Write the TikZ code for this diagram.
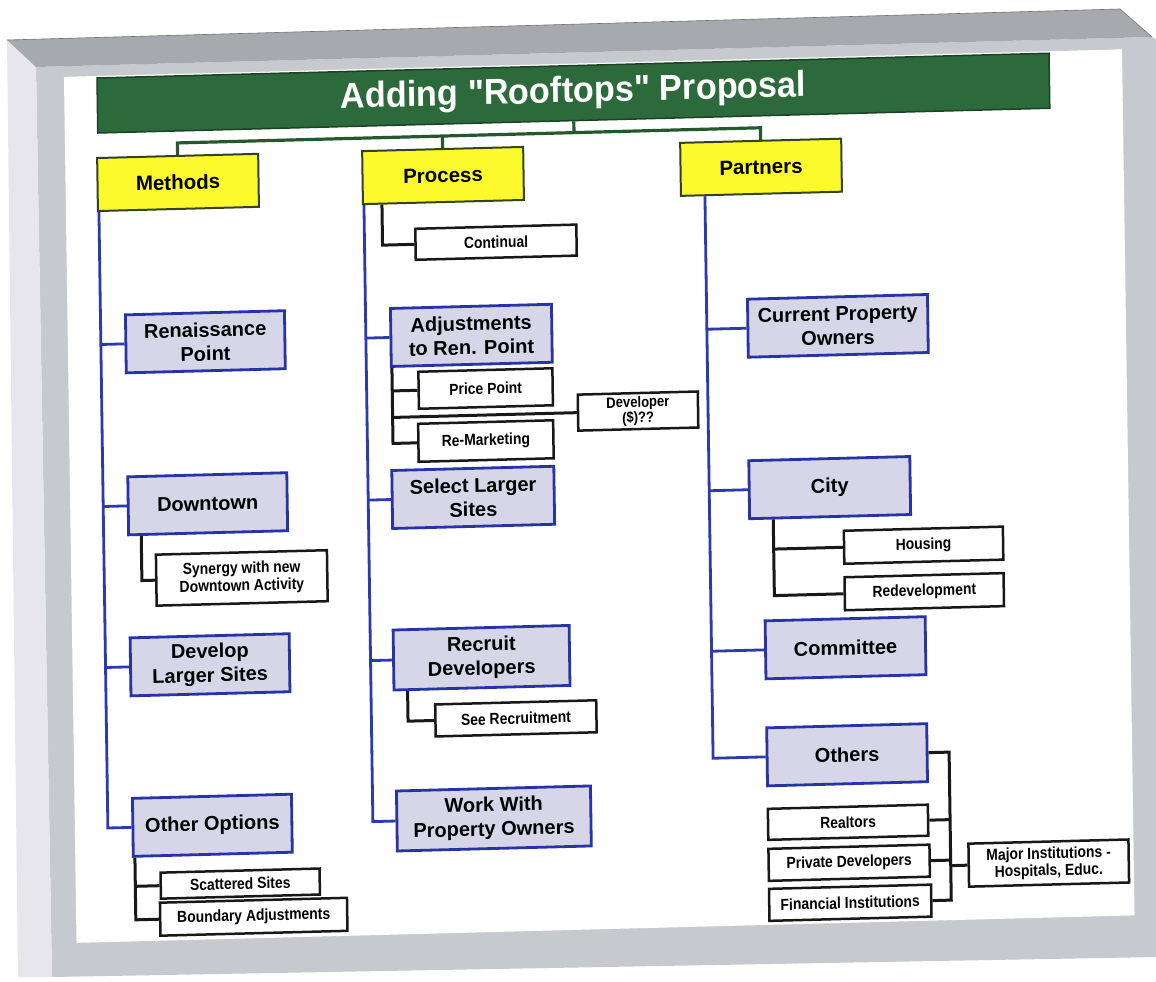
\documentclass[tikz,border=0pt]{standalone}
\usepackage{fontspec}
\setmainfont{Liberation Sans}
\newfontfamily\narrowfont[FakeStretch=0.87]{Liberation Sans}
\newfontfamily\titlefont[FakeStretch=0.95]{Liberation Sans}

\definecolor{titlegreen}{RGB}{44,106,60}
\definecolor{titleedge}{RGB}{28,66,36}
\definecolor{linegreen}{RGB}{38,88,46}
\definecolor{yfill}{RGB}{252,250,44}
\definecolor{yborder}{RGB}{52,66,30}
\definecolor{lavfill}{RGB}{214,214,232}
\definecolor{boxblue}{RGB}{40,52,165}
\definecolor{lineblue}{RGB}{45,58,175}
\definecolor{inkline}{RGB}{24,24,24}
\definecolor{frameface}{RGB}{198,202,206}
\definecolor{framebevel}{RGB}{166,169,173}
\definecolor{frameside}{RGB}{230,230,236}

\begin{document}
\begin{tikzpicture}[x=1pt,y=-1pt,
  lav/.style={draw=boxblue, line width=2.8pt, fill=lavfill, inner sep=0pt,
    align=center, font=\bfseries\fontsize{20}{24}\selectfont},
  wbox/.style={draw=inkline, line width=2.5pt, fill=white, inner sep=0pt,
    align=center, font=\narrowfont\bfseries\fontsize{16}{16}\selectfont},
  ybox/.style={draw=yborder, line width=2pt, fill=yfill, inner sep=0pt,
    font=\bfseries\fontsize{20.5}{24}\selectfont},
  bline/.style={draw=lineblue, line width=2.8pt},
  kline/.style={draw=inkline, line width=3pt},
  gline/.style={draw=linegreen, line width=3.2pt},
]
\useasboundingbox (0,0) rectangle (1156,982);

% --- grey display frame ---
\fill[frameface] (36,67) -- (1152,37) -- (1157,40) -- (1157,957) -- (52,977) -- cycle;
\fill[frameside] (7,40) -- (36,67) -- (52,977) -- (18,977) -- cycle;
\fill[framebevel] (7,40) -- (1120,9) -- (1152,37) -- (36,67) -- cycle;
\draw[black!55, line width=0.6pt] (7,40) -- (1120,9) -- (1152,37);

% --- slide content, slightly skewed as on the display ---
\begin{scope}[transform canvas={shift={(97pt,-78pt)}, cm={1,0.026,-0.0145,1,(0pt,0pt)}}]
\fill[white] (-33,-2) rectangle (1025,864);

% title bar
\node[draw=titleedge, line width=1.5pt, fill=titlegreen, minimum width=952pt,
  minimum height=55pt, inner sep=0pt, text=white,
  font=\titlefont\bfseries\fontsize{36}{40}\selectfont] (title) at (476,27.5)
  {\raisebox{-3pt}{Adding "Rooftops" Proposal}};

% headings
\node[ybox, minimum width=161pt, minimum height=53pt] (methods)  at (79.5,106.5) {Methods};
\node[ybox, minimum width=161pt, minimum height=53pt] (process)  at (344.5,106.5) {Process};
\node[ybox, minimum width=161pt, minimum height=53pt] (partners) at (662.5,106.5) {Partners};

% methods column
\node[lav, minimum width=159pt, minimum height=58pt] (ren)   at (104.5,266.5) {Renaissance\\Point};
\node[lav, minimum width=159pt, minimum height=58pt] (down)  at (104.5,428.5) {Downtown};
\node[lav, minimum width=159pt, minimum height=58pt] (devl)  at (104.5,589.5) {Develop\\Larger Sites};
\node[lav, minimum width=159pt, minimum height=58pt] (other) at (104.5,750)   {Other Options};
\node[wbox, minimum width=171pt, minimum height=51pt,
  font=\narrowfont\bfseries\fontsize{16}{17.5}\selectfont] (syn) at (137.5,503.5) {Synergy with new\\Downtown Activity};
\node[wbox, minimum width=159pt, minimum height=26pt] (scat)  at (131.5,809)   {Scattered Sites};
\node[wbox, minimum width=187pt, minimum height=33pt] (bound) at (144.5,842.5) {Boundary Adjustments};

% process column
\node[wbox, minimum width=161pt, minimum height=31pt] (cont)  at (396.5,174.5) {Continual};
\node[lav, minimum width=161pt, minimum height=58pt] (adj)    at (370.5,267)   {Adjustments\\to Ren. Point};
\node[wbox, minimum width=134pt, minimum height=37pt] (price)  at (384,320.5)   {Price Point};
\node[wbox, minimum width=120pt, minimum height=36pt,
  font=\narrowfont\bfseries\fontsize{15}{15.5}\selectfont] (dev) at (536,347) {Developer\\(\$)??};
\node[wbox, minimum width=135pt, minimum height=38pt] (remk)   at (383.5,373)   {Re-Marketing};
\node[lav, minimum width=162pt, minimum height=58pt] (sel)    at (370,429)     {Select Larger\\Sites};
\node[lav, minimum width=176pt, minimum height=60pt] (recr)   at (376,589.5)   {Recruit\\Developers};
\node[wbox, minimum width=161pt, minimum height=32pt] (see)   at (409.5,651)   {See Recruitment};
\node[lav, minimum width=194pt, minimum height=60pt] (work)   at (386,750.5)   {Work With\\Property Owners};

% partners column
\node[lav, minimum width=180pt, minimum height=58pt] (cpo)    at (737,267)     {Current Property\\Owners};
\node[lav, minimum width=161pt, minimum height=58pt] (city)   at (726.5,428.5) {City};
\node[wbox, minimum width=159pt, minimum height=33pt] (hous)  at (819.5,488.5) {Housing};
\node[wbox, minimum width=159pt, minimum height=33pt] (redev) at (819.5,535)   {Redevelopment};
\node[lav, minimum width=160pt, minimum height=58pt] (comm)   at (740,589)     {Committee};
\node[lav, minimum width=160pt, minimum height=58pt] (others) at (740,696)     {Others};
\node[wbox, minimum width=160pt, minimum height=31pt] (realt) at (740,763.5)   {Realtors};
\node[wbox, minimum width=161pt, minimum height=32pt] (priv)  at (740.5,804)   {Private Developers};
\node[wbox, minimum width=162pt, minimum height=32pt] (fin)   at (741,844)     {Financial Institutions};
\node[wbox, minimum width=160pt, minimum height=43pt,
  font=\narrowfont\bfseries\fontsize{16}{17}\selectfont] (major) at (940,809.5) {Major Institutions -\\Hospitals, Educ.};

% title connectors
\coordinate (tbus) at (476,67);
\draw[gline] (title.south) -- (tbus);
\draw[gline] (methods.north) |- (tbus) -| (partners.north);
\draw[gline] (process.north) -- (process.north |- tbus);

% column spines
\coordinate (mtop) at ([xshift=2pt]methods.south west);
\coordinate (ptop) at ([xshift=2pt]process.south west);
\coordinate (rtop) at ([xshift=25pt]partners.south west);
\draw[bline] (mtop) |- (other.west);
\foreach \n in {ren,down,devl} \draw[bline] (\n.west) -- (\n.west -| mtop);
\draw[bline] (ptop) |- (work.west);
\foreach \n in {adj,sel,recr} \draw[bline] (\n.west) -- (\n.west -| ptop);
\draw[bline] (rtop) |- (others.west);
\foreach \n in {cpo,city,comm} \draw[bline] (\n.west) -- (\n.west -| rtop);

% sub-item connectors
\coordinate (synx) at ([xshift=14pt]down.south west);
\coordinate (othx) at ([xshift=3pt]other.south west);
\coordinate (prcx) at ([xshift=20pt]process.south west);
\coordinate (adjx) at ([xshift=2pt]adj.south west);
\coordinate (recx) at ([xshift=15pt]recr.south west);
\coordinate (cityx) at ([xshift=25pt]city.south west);
\draw[kline] (synx) |- (syn.west);
\draw[kline] (othx) |- (bound.west);
\draw[kline] (scat.west) -- (scat.west -| othx);
\draw[kline] (prcx) |- (cont.west);
\draw[kline] (adjx) |- (remk.west);
\draw[kline] (price.west) -- (price.west -| adjx);
\draw[kline] (dev.west) -- (dev.west -| adjx);
\draw[kline] (recx) |- (see.west);
\draw[kline] (cityx) |- (redev.west);
\draw[kline] (hous.west) -- (hous.west -| cityx);
\coordinate (obus) at (842,696);
\coordinate (obusb) at (842,844);
\draw[kline] (others.east) -- (obus) -- (obusb) -- (fin.east);
\foreach \n in {realt,priv} \draw[kline] (\n.east) -- (\n.east -| obus);
\draw[kline] (major.west) -- (major.west -| obus);
\end{scope}
\end{tikzpicture}
\end{document}
